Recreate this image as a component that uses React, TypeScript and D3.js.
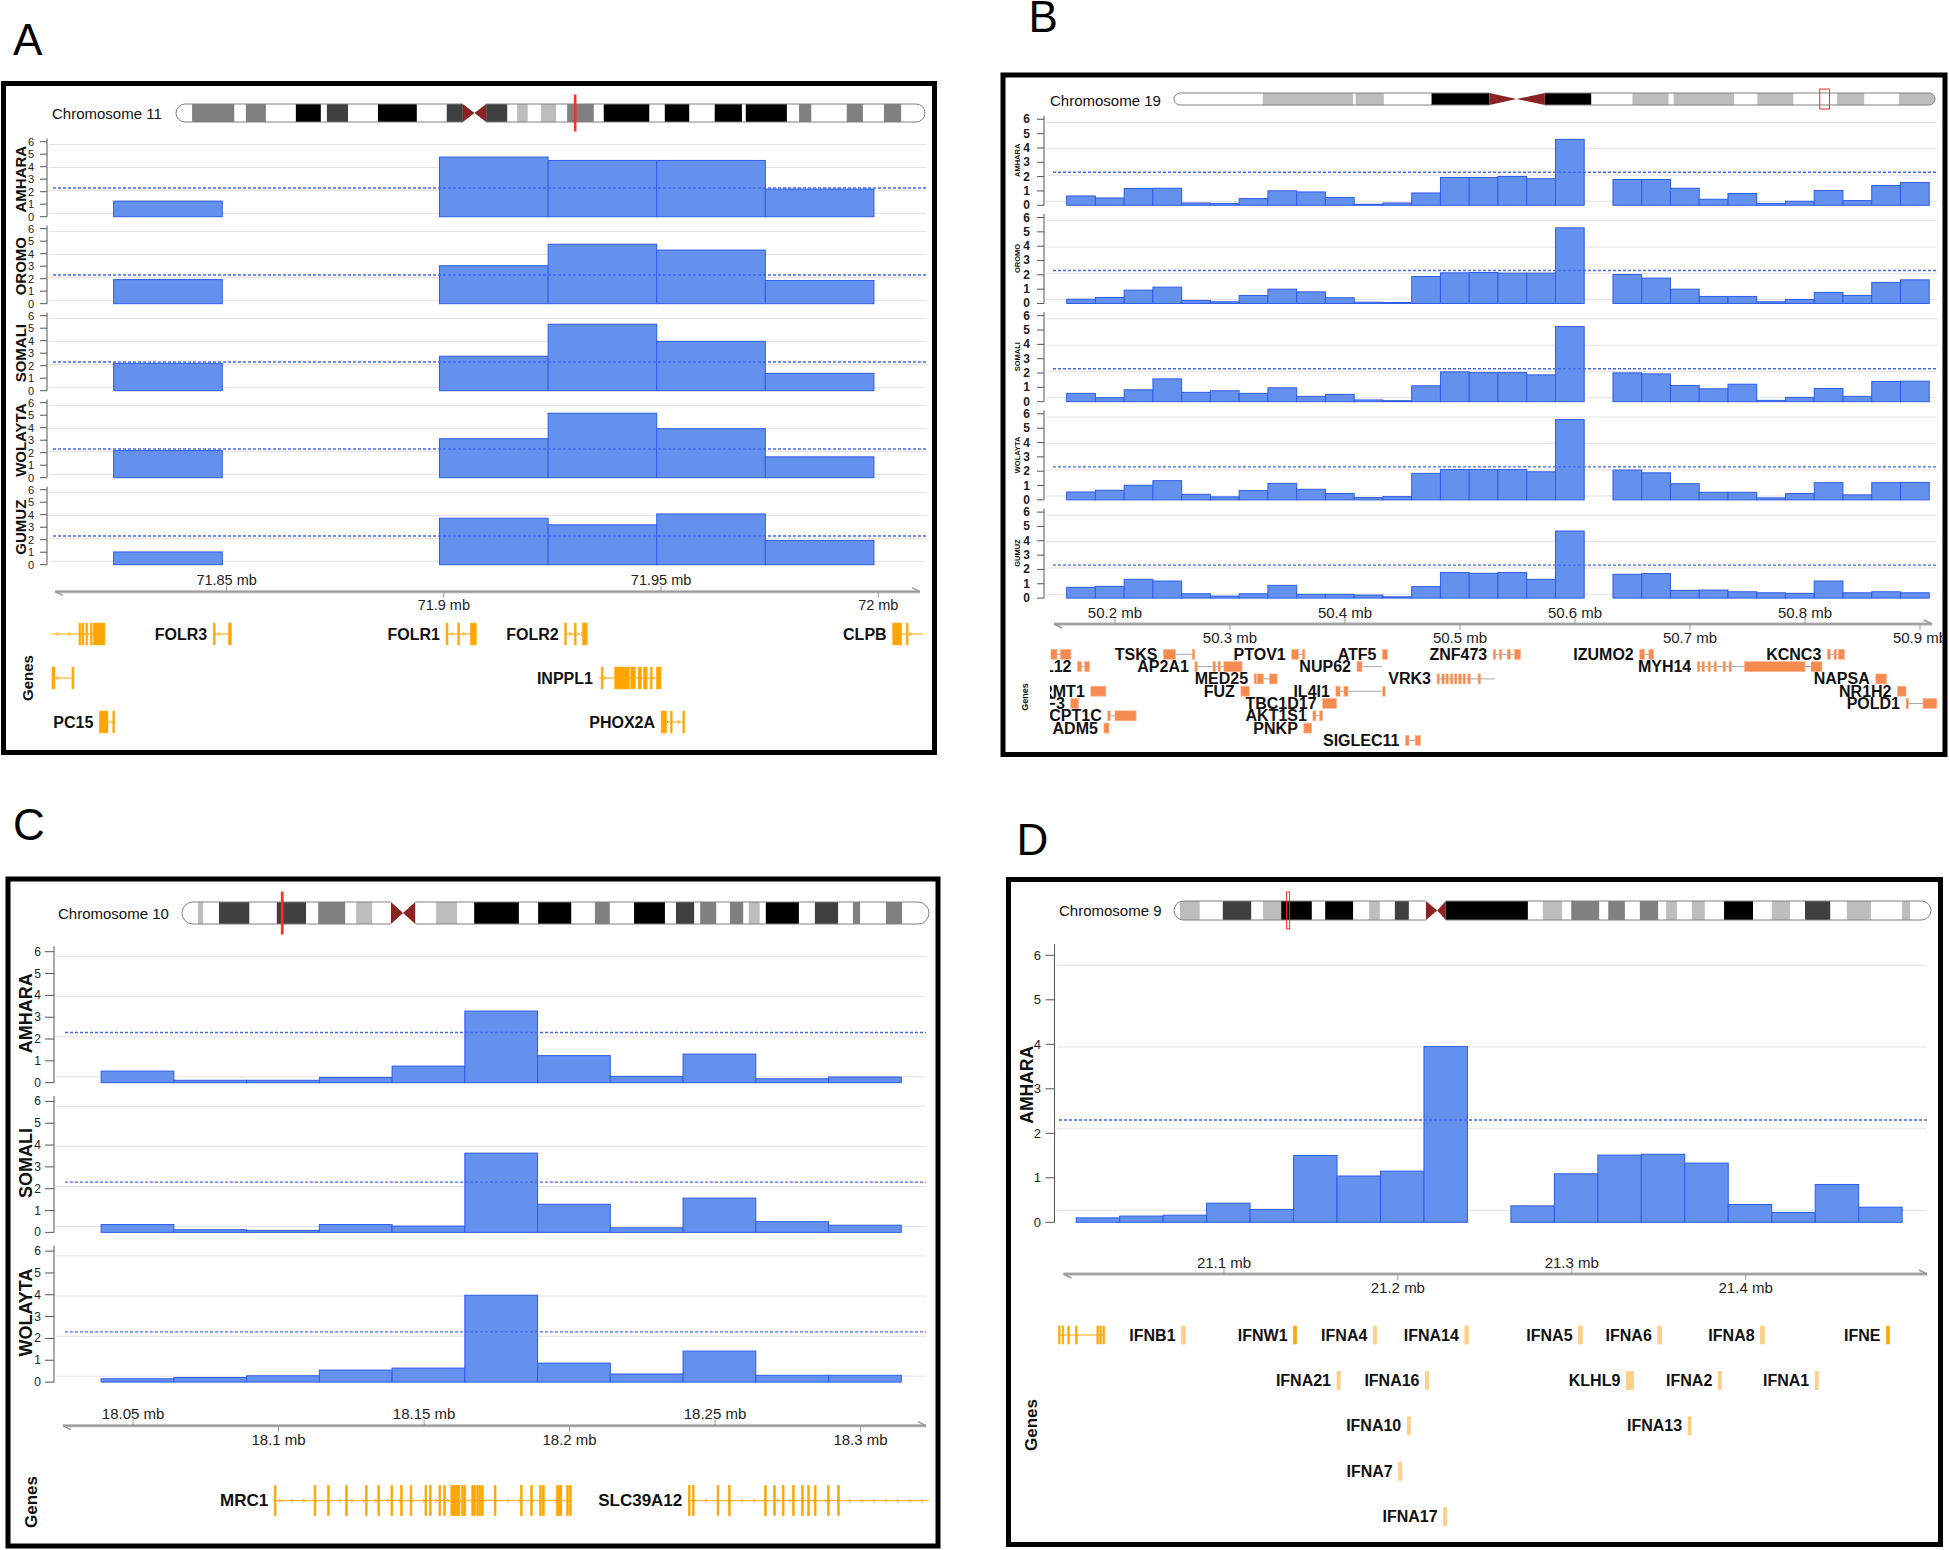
import React from "react";
import * as d3 from "d3";

const FONT = "'Liberation Sans', Arial, Helvetica, sans-serif";

// ---------------- shared data ----------------
const Y_TICKS = [0, 1, 2, 3, 4, 5, 6];
const GRID_VALUES = [0.27, 2.1, 3.94, 5.78];
const THRESHOLD = 2.3;
const BIN_SIZE = 0.025;

const STAIN: Record<string, string> = {
  gpos100: "#000000",
  gpos75: "#404040",
  gpos50: "#808080",
  gpos25: "#bdbdbd",
  acen: "#8b2323",
};

type Band = [number, number, string];
type Gene = { name: string; row: number; start: number; end: number; exons: [number, number][] };

// ---------------- panel A : chromosome 11 ----------------
const A_CHROM = "Chromosome 11";
const A_CHROM_LEN = 135.0;
const A_BANDS: Band[] = [
  [2.9, 10.5, "gpos50"], [12.6, 16.2, "gpos50"], [21.6, 26.1, "gpos100"], [27.2, 31.0, "gpos75"],
  [36.4, 43.4, "gpos100"], [48.8, 51.7, "gpos75"], [51.7, 53.8, "acen"], [53.8, 55.9, "acen"],
  [55.9, 59.7, "gpos75"], [61.5, 63.4, "gpos25"], [65.8, 68.5, "gpos25"], [70.5, 75.3, "gpos50"],
  [77.1, 85.3, "gpos100"], [88.1, 92.5, "gpos100"], [97.1, 102.0, "gpos100"], [102.7, 110.1, "gpos100"],
  [112.3, 114.5, "gpos50"], [120.9, 123.8, "gpos50"], [127.6, 130.7, "gpos50"],
];
const A_REGION: [number, number] = [71.8105, 72.0096];
const A_POPS = ["AMHARA", "OROMO", "SOMALI", "WOLAYTA", "GUMUZ"];
const A_BIN_STARTS = [71.824, 71.899, 71.924, 71.949, 71.974];
const A_AMHARA = [1.25, 4.77, 4.5, 4.5, 2.21];
const A_OROMO = [1.93, 3.04, 4.76, 4.29, 1.85];
const A_SOMALI = [2.18, 2.76, 5.32, 3.95, 1.39];
const A_WOLAYTA = [2.17, 3.12, 5.16, 3.92, 1.67];
const A_GUMUZ = [1.02, 3.72, 3.19, 4.06, 1.94];
const A_AXIS_TICKS = [71.85, 71.9, 71.95, 72.0];
const A_AXIS_LABELS = ["71.85 mb", "71.9 mb", "71.95 mb", "72 mb"];
const A_GENES: Gene[] = [
  { name: "", row: 0, start: 71.8098, end: 71.822, exons: [[71.816, 71.8162], [71.8167, 71.8169], [71.8176, 71.8178], [71.8186, 71.8188], [71.8193, 71.822]] },
  { name: "FOLR3", row: 0, start: 71.8469, end: 71.8511, exons: [[71.8469, 71.8471], [71.8504, 71.8511]] },
  { name: "FOLR1", row: 0, start: 71.9005, end: 71.9075, exons: [[71.9005, 71.9008], [71.9032, 71.9034], [71.9061, 71.9075]] },
  { name: "FOLR2", row: 0, start: 71.9278, end: 71.933, exons: [[71.9278, 71.928], [71.93, 71.9302], [71.9319, 71.933]] },
  { name: "CLPB", row: 0, start: 72.0033, end: 72.0103, exons: [[72.0033, 72.0054], [72.0064, 72.0066]] },
  { name: "", row: 1, start: 71.8098, end: 71.8146, exons: [[71.8098, 71.8105], [71.8144, 71.8146]] },
  { name: "INPPL1", row: 1, start: 71.9357, end: 71.9502, exons: [[71.9362, 71.9364], [71.9393, 71.9427], [71.943, 71.9441], [71.9447, 71.9455], [71.9459, 71.9468], [71.9475, 71.9477], [71.9489, 71.95]] },
  { name: "PC15", row: 2, start: 71.8207, end: 71.8241, exons: [[71.8207, 71.8227], [71.8238, 71.824]] },
  { name: "PHOX2A", row: 2, start: 71.95, end: 71.9552, exons: [[71.95, 71.9513], [71.9521, 71.9523], [71.955, 71.9552]] },
];

// ---------------- panel B : chromosome 19 ----------------
const B_CHROM = "Chromosome 19";
const B_CHROM_LEN = 59.1;
const B_BANDS: Band[] = [
  [6.9, 13.9, "gpos25"], [14.1, 16.3, "gpos25"], [20.0, 24.5, "gpos100"], [24.5, 26.6, "acen"],
  [26.6, 28.8, "acen"], [28.8, 32.4, "gpos100"], [35.6, 38.4, "gpos25"], [38.8, 43.5, "gpos25"],
  [45.3, 48.1, "gpos25"], [51.5, 53.6, "gpos25"], [56.3, 59.1, "gpos25"],
];
const B_REGION: [number, number] = [50.147, 50.9104];
const B_POPS = ["AMHARA", "OROMO", "SOMALI", "WOLAYTA", "GUMUZ"];
const B_BIN_STARTS = [
  50.158, 50.183, 50.208, 50.233, 50.258, 50.283, 50.308, 50.333, 50.358, 50.383, 50.408, 50.433,
  50.458, 50.483, 50.508, 50.533, 50.558, 50.583,
  50.633, 50.658, 50.683, 50.708, 50.733, 50.758, 50.783, 50.808, 50.833, 50.858, 50.883,
];
const B_AMHARA = [0.65, 0.51, 1.17, 1.19, 0.16, 0.12, 0.47, 1.01, 0.93, 0.54, 0.07, 0.16, 0.86, 1.94, 1.94, 2.01, 1.85, 4.6,
  1.8, 1.8, 1.19, 0.42, 0.82, 0.12, 0.28, 1.03, 0.33, 1.38, 1.59];
const B_OROMO = [0.3, 0.42, 0.93, 1.14, 0.21, 0.12, 0.56, 1.0, 0.81, 0.4, 0.09, 0.07, 1.88, 2.14, 2.16, 2.12, 2.12, 5.28,
  2.02, 1.77, 1.0, 0.49, 0.49, 0.12, 0.28, 0.77, 0.56, 1.47, 1.65];
const B_SOMALI = [0.58, 0.28, 0.83, 1.59, 0.65, 0.76, 0.58, 0.97, 0.37, 0.51, 0.12, 0.07, 1.11, 2.08, 2.03, 2.03, 1.87, 5.24,
  2.01, 1.94, 1.13, 0.9, 1.22, 0.09, 0.3, 0.92, 0.37, 1.41, 1.43];
const B_WOLAYTA = [0.55, 0.67, 1.02, 1.34, 0.39, 0.21, 0.65, 1.15, 0.74, 0.44, 0.16, 0.23, 1.85, 2.12, 2.12, 2.12, 1.96, 5.6,
  2.08, 1.89, 1.13, 0.53, 0.53, 0.14, 0.44, 1.2, 0.35, 1.2, 1.22];
const B_GUMUZ = [0.75, 0.82, 1.31, 1.19, 0.3, 0.14, 0.3, 0.89, 0.26, 0.26, 0.21, 0.09, 0.8, 1.78, 1.73, 1.78, 1.31, 4.68,
  1.66, 1.71, 0.54, 0.56, 0.44, 0.37, 0.33, 1.19, 0.37, 0.44, 0.37];
const B_AXIS_TICKS = [50.2, 50.3, 50.4, 50.5, 50.6, 50.7, 50.8, 50.9];
const B_AXIS_LABELS = ["50.2 mb", "50.3 mb", "50.4 mb", "50.5 mb", "50.6 mb", "50.7 mb", "50.8 mb", "50.9 mb"];
const B_GENES: Gene[] = [
  { name: "", row: 0, start: 50.1443, end: 50.1617, exons: [[50.1443, 50.1496], [50.1526, 50.1617]] },
  { name: "TSKS", row: 0, start: 50.2421, end: 50.2674, exons: [[50.2421, 50.2526], [50.2672, 50.2674]] },
  { name: "PTOV1", row: 0, start: 50.3537, end: 50.3642, exons: [[50.3537, 50.3595], [50.363, 50.3642]] },
  { name: "ATF5", row: 0, start: 50.4326, end: 50.4368, exons: [[50.4326, 50.4368]] },
  { name: "ZNF473", row: 0, start: 50.5289, end: 50.5526, exons: [[50.5289, 50.5291], [50.5342, 50.5344], [50.5411, 50.5437], [50.5473, 50.5526]] },
  { name: "IZUMO2", row: 0, start: 50.6563, end: 50.6683, exons: [[50.6563, 50.6604], [50.6642, 50.6683]] },
  { name: "KCNC3", row: 0, start: 50.8194, end: 50.8342, exons: [[50.8194, 50.822], [50.8252, 50.8254], [50.8289, 50.8342]] },
  { name: "BCL2L12", row: 1, start: 50.1674, end: 50.1779, exons: [[50.1674, 50.171], [50.1737, 50.1779]] },
  { name: "AP2A1", row: 1, start: 50.2695, end: 50.3105, exons: [[50.2695, 50.2697], [50.2852, 50.2854], [50.2895, 50.2897], [50.2947, 50.3105]] },
  { name: "NUP62", row: 1, start: 50.4104, end: 50.4326, exons: [[50.4104, 50.4148]] },
  { name: "MYH14", row: 1, start: 50.7063, end: 50.8147, exons: [[50.7063, 50.7065], [50.7104, 50.7106], [50.7157, 50.7159], [50.7209, 50.7211], [50.7287, 50.7289], [50.7339, 50.7341], [50.7473, 50.8], [50.8052, 50.8147]] },
  { name: "MED25", row: 2, start: 50.321, end: 50.341, exons: [[50.321, 50.3212], [50.3237, 50.329], [50.3342, 50.341]] },
  { name: "VRK3", row: 2, start: 50.48, end: 50.5304, exons: [[50.48, 50.4802], [50.4842, 50.4844], [50.4878, 50.488], [50.4916, 50.4918], [50.4952, 50.4954], [50.4989, 50.4991], [50.5026, 50.5028], [50.5068, 50.507], [50.5157, 50.5159]] },
  { name: "NAPSA", row: 2, start: 50.8615, end: 50.871, exons: [[50.8615, 50.871]] },
  { name: "PRMT1", row: 3, start: 50.179, end: 50.1921, exons: [[50.179, 50.1921]] },
  { name: "FUZ", row: 3, start: 50.3095, end: 50.3168, exons: [[50.3095, 50.3168]] },
  { name: "IL4I1", row: 3, start: 50.3921, end: 50.433, exons: [[50.3921, 50.3957], [50.399, 50.4026], [50.4328, 50.433]] },
  { name: "NR1H2", row: 3, start: 50.8804, end: 50.8878, exons: [[50.8804, 50.8878]] },
  { name: "IRF3", row: 4, start: 50.1616, end: 50.1684, exons: [[50.1616, 50.1684]] },
  { name: "TBC1D17", row: 4, start: 50.3805, end: 50.3926, exons: [[50.3805, 50.3926]] },
  { name: "POLD1", row: 4, start: 50.8878, end: 50.9146, exons: [[50.8878, 50.888], [50.9025, 50.9146]] },
  { name: "CPT1C", row: 5, start: 50.1937, end: 50.2184, exons: [[50.1937, 50.1939], [50.2, 50.2184]] },
  { name: "AKT1S1", row: 5, start: 50.3721, end: 50.3805, exons: [[50.3721, 50.3747], [50.3779, 50.3805]] },
  { name: "ADM5", row: 6, start: 50.1904, end: 50.1948, exons: [[50.1904, 50.1948]] },
  { name: "PNKP", row: 6, start: 50.3642, end: 50.371, exons: [[50.3642, 50.371]] },
  { name: "SIGLEC11", row: 7, start: 50.4526, end: 50.4657, exons: [[50.4526, 50.4557], [50.461, 50.4657]] },
];

// ---------------- panel C : chromosome 10 ----------------
const C_CHROM = "Chromosome 10";
const C_CHROM_LEN = 135.5;
const C_BANDS: Band[] = [
  [2.9, 3.8, "gpos25"], [6.7, 12.2, "gpos75"], [17.2, 22.5, "gpos75"], [24.7, 29.6, "gpos50"],
  [31.6, 34.5, "gpos25"], [37.9, 40.1, "acen"], [40.1, 42.3, "acen"], [46.1, 49.9, "gpos25"],
  [53.0, 61.1, "gpos100"], [64.6, 70.6, "gpos100"], [74.9, 77.6, "gpos50"], [82.0, 87.6, "gpos100"],
  [89.6, 92.9, "gpos75"], [94.0, 96.9, "gpos50"], [99.4, 101.8, "gpos50"], [102.8, 104.8, "gpos25"],
  [105.9, 111.9, "gpos100"], [114.8, 119.0, "gpos75"], [121.7, 123.0, "gpos50"], [127.7, 130.6, "gpos50"],
];
const C_REGION: [number, number] = [18.0259, 18.3225];
const C_POPS = ["AMHARA", "SOMALI", "WOLAYTA"];
const C_BIN_STARTS = [18.039, 18.064, 18.089, 18.114, 18.139, 18.164, 18.189, 18.214, 18.239, 18.264, 18.289];
const C_AMHARA = [0.53, 0.11, 0.11, 0.24, 0.76, 3.28, 1.24, 0.29, 1.31, 0.18, 0.26];
const C_SOMALI = [0.36, 0.12, 0.09, 0.36, 0.29, 3.63, 1.29, 0.21, 1.57, 0.49, 0.33];
const C_WOLAYTA = [0.15, 0.21, 0.29, 0.55, 0.64, 3.98, 0.87, 0.37, 1.42, 0.31, 0.31];
const C_AXIS_TICKS = [18.05, 18.1, 18.15, 18.2, 18.25, 18.3];
const C_AXIS_LABELS = ["18.05 mb", "18.1 mb", "18.15 mb", "18.2 mb", "18.25 mb", "18.3 mb"];
const C_MRC1_EXONS = [18.0985, 18.1122, 18.1168, 18.123, 18.1298, 18.1341, 18.1386, 18.1419, 18.1452, 18.1503, 18.1518,
  18.1551, 18.1567, 18.1592, 18.1598, 18.1604, 18.1611, 18.1617, 18.1629, 18.1637, 18.1664, 18.167, 18.1681, 18.1689,
  18.1697, 18.1741, 18.1831, 18.1866, 18.1897, 18.1907, 18.1955, 18.1961, 18.1967, 18.199, 18.2];
const C_SLC39A12_EXONS = [18.2408, 18.2422, 18.2507, 18.2546, 18.267, 18.2701, 18.2731, 18.2766, 18.2797, 18.2818,
  18.2841, 18.2886, 18.2921];
const C_GENES: Gene[] = [
  { name: "MRC1", row: 0, start: 18.0985, end: 18.2, exons: C_MRC1_EXONS.map((e) => [e, e] as [number, number]) },
  { name: "SLC39A12", row: 0, start: 18.2408, end: 18.3235, exons: C_SLC39A12_EXONS.map((e) => [e, e] as [number, number]) },
];

// ---------------- panel D : chromosome 9 ----------------
const D_CHROM = "Chromosome 9";
const D_CHROM_LEN = 141.2;
const D_BANDS: Band[] = [
  [1.1, 4.8, "gpos25"], [9.1, 14.4, "gpos75"], [16.6, 20.0, "gpos25"], [20.0, 25.7, "gpos100"],
  [28.2, 33.4, "gpos100"], [36.4, 38.4, "gpos25"], [41.2, 43.8, "gpos75"], [47.0, 49.1, "acen"],
  [49.1, 50.7, "acen"], [50.7, 66.0, "gpos100"], [68.8, 72.4, "gpos25"], [74.1, 79.3, "gpos50"],
  [81.0, 84.1, "gpos50"], [86.9, 90.3, "gpos50"], [91.8, 93.8, "gpos25"], [96.6, 99.0, "gpos25"],
  [102.6, 108.0, "gpos100"], [111.5, 114.9, "gpos25"], [117.7, 122.4, "gpos75"], [125.5, 130.0, "gpos25"],
  [135.8, 137.3, "gpos25"],
];
const D_REGION: [number, number] = [21.0077, 21.5043];
const D_POPS = ["AMHARA"];
const D_BIN_STARTS = [21.015, 21.04, 21.065, 21.09, 21.115, 21.14, 21.165, 21.19, 21.215,
  21.265, 21.29, 21.315, 21.34, 21.365, 21.39, 21.415, 21.44, 21.465];
const D_AMHARA = [0.1, 0.14, 0.16, 0.43, 0.29, 1.5, 1.04, 1.15, 3.95, 0.37, 1.09, 1.51, 1.53, 1.33, 0.4, 0.22, 0.85, 0.34];
const D_AXIS_TICKS = [21.1, 21.2, 21.3, 21.4];
const D_AXIS_LABELS = ["21.1 mb", "21.2 mb", "21.3 mb", "21.4 mb"];
const D_GENES: Gene[] = [
  { name: "", row: 0, start: 21.0049, end: 21.0311, exons: [[21.0049, 21.0052], [21.007, 21.0071], [21.0102, 21.0103], [21.0147, 21.0148], [21.0269, 21.027], [21.0286, 21.0287], [21.0304, 21.0305]] },
  { name: "IFNB1", row: 0, start: 21.0756, end: 21.0777, exons: [[21.0756, 21.0777]] },
  { name: "IFNW1", row: 0, start: 21.14, end: 21.1417, exons: [[21.14, 21.1417]] },
  { name: "IFNA4", row: 0, start: 21.1859, end: 21.1876, exons: [[21.1859, 21.1876]] },
  { name: "IFNA14", row: 0, start: 21.2385, end: 21.2405, exons: [[21.2385, 21.2405]] },
  { name: "IFNA5", row: 0, start: 21.3039, end: 21.306, exons: [[21.3039, 21.306]] },
  { name: "IFNA6", row: 0, start: 21.3495, end: 21.3516, exons: [[21.3495, 21.3516]] },
  { name: "IFNA8", row: 0, start: 21.4086, end: 21.4107, exons: [[21.4086, 21.4107]] },
  { name: "IFNE", row: 0, start: 21.481, end: 21.4827, exons: [[21.481, 21.4827]] },
  { name: "IFNA21", row: 1, start: 21.165, end: 21.1668, exons: [[21.165, 21.1668]] },
  { name: "IFNA16", row: 1, start: 21.2159, end: 21.2176, exons: [[21.2159, 21.2176]] },
  { name: "KLHL9", row: 1, start: 21.3314, end: 21.3356, exons: [[21.3314, 21.3356]] },
  { name: "IFNA2", row: 1, start: 21.3843, end: 21.386, exons: [[21.3843, 21.386]] },
  { name: "IFNA1", row: 1, start: 21.44, end: 21.4417, exons: [[21.44, 21.4417]] },
  { name: "IFNA10", row: 2, start: 21.2054, end: 21.2071, exons: [[21.2054, 21.2071]] },
  { name: "IFNA13", row: 2, start: 21.3669, end: 21.3686, exons: [[21.3669, 21.3686]] },
  { name: "IFNA7", row: 3, start: 21.2005, end: 21.2023, exons: [[21.2005, 21.2023]] },
  { name: "IFNA17", row: 4, start: 21.2263, end: 21.228, exons: [[21.2263, 21.228]] },
];
const D_STRONG = ["", "IFNW1", "IFNE"];

// ---------------- drawing helpers ----------------
function Ideogram(p: {
  id: string; x0: number; x1: number; y: number; h: number; len: number; bands: Band[];
  mark: [number, number]; ext: number; markFill: string; markMin: number;
}) {
  const s = d3.scaleLinear().domain([0, p.len]).range([p.x0, p.x1]);
  const { x0, x1, y, h } = p;
  const r = h / 2;
  const acen = p.bands.filter((b) => b[2] === "acen");
  const cs = s(acen[0][0]);
  const cm = s(acen[0][1]);
  const ce = s(acen[1][1]);
  const mx0 = s(p.mark[0]);
  const mw = Math.max(p.markMin, s(p.mark[1]) - mx0);
  return (
    <g>
      <clipPath id={p.id}>
        <rect x={x0} y={y} width={x1 - x0} height={h} rx={r} ry={r} />
      </clipPath>
      <g clipPath={`url(#${p.id})`}>
        <rect x={x0} y={y} width={cs - x0} height={h} fill="#fff" />
        <rect x={ce} y={y} width={x1 - ce} height={h} fill="#fff" />
        {p.bands.filter((b) => b[2] !== "acen").map((b, i) => (
          <rect key={i} x={s(b[0])} y={y} width={s(b[1]) - s(b[0])} height={h} fill={STAIN[b[2]]} />
        ))}
      </g>
      <path d={`M${cs},${y}L${cm},${y + h / 2}L${cs},${y + h}Z`} fill={STAIN.acen} />
      <path d={`M${ce},${y}L${cm},${y + h / 2}L${ce},${y + h}Z`} fill={STAIN.acen} />
      <path d={`M${cs},${y}H${x0 + r}A${r},${r} 0 0 0 ${x0 + r},${y + h}H${cs}`} fill="none" stroke="#808080" strokeWidth={1} />
      <path d={`M${ce},${y}H${x1 - r}A${r},${r} 0 0 1 ${x1 - r},${y + h}H${ce}`} fill="none" stroke="#808080" strokeWidth={1} />
      <rect x={mx0} y={y - p.ext} width={mw} height={h + 2 * p.ext} fill={p.markFill} stroke="#ff2a1a" strokeWidth={1} />
    </g>
  );
}

type TrackCfg = {
  top0: number; step: number; unit: number; axisX: number; x1: number; dashX0: number;
  labelX: number; labelSize: number; labelDy: number; tickSize: number; tickBold: boolean; tickLen: number; tickGap: number;
};

function DataTrack(p: { name: string; idx: number; values: number[]; starts: number[]; xs: d3.ScaleLinear<number, number>; cfg: TrackCfg }) {
  const c = p.cfg;
  const top = c.top0 + p.idx * c.step;
  const yv = d3.scaleLinear().domain([0, 6]).range([top + 6 * c.unit, top]);
  const mid = yv(3);
  return (
    <g>
      {GRID_VALUES.map((g, i) => (
        <line key={"g" + i} x1={c.axisX + 2} x2={c.x1} y1={yv(g)} y2={yv(g)} stroke="#e2e2e2" strokeWidth={1} />
      ))}
      {p.values.map((v, i) => {
        const xa = p.xs(p.starts[i]);
        const xb = p.xs(p.starts[i] + BIN_SIZE);
        return (
          <rect key={"b" + i} x={xa} y={yv(v)} width={xb - xa} height={yv(0) - yv(v)}
            fill="#6491ee" stroke="#2f5cec" strokeWidth={1} />
        );
      })}
      <line x1={c.dashX0} x2={c.x1} y1={yv(THRESHOLD)} y2={yv(THRESHOLD)} stroke="#4468f2" strokeWidth={1.4} strokeDasharray="3,2" />
      <line x1={c.axisX} x2={c.axisX} y1={yv(6.25)} y2={yv(0)} stroke="#555" strokeWidth={1} />
      {Y_TICKS.map((t) => (
        <g key={"t" + t}>
          <line x1={c.axisX - c.tickLen} x2={c.axisX} y1={yv(t)} y2={yv(t)} stroke="#555" strokeWidth={1} />
          <text x={c.axisX - c.tickLen - c.tickGap} y={yv(t)} textAnchor="end" dominantBaseline="central"
            fontSize={c.tickSize} fontWeight={c.tickBold ? "bold" : "normal"} fill="#222">{t}</text>
        </g>
      ))}
      <text transform={`translate(${c.labelX},${mid + c.labelDy}) rotate(-90)`} textAnchor="middle" dominantBaseline="central"
        fontSize={c.labelSize} fontWeight="bold" fill="#111">{p.name}</text>
    </g>
  );
}

function GenomeAxis(p: { xs: d3.ScaleLinear<number, number>; y: number; ticks: number[]; labels: string[]; fontSize: number }) {
  const [d0, d1] = p.xs.domain();
  const X0 = p.xs(d0);
  const X1 = p.xs(d1);
  const y = p.y;
  return (
    <g>
      <line x1={X0} x2={X1} y1={y} y2={y} stroke="#b3b3b3" strokeWidth={3} />
      <line x1={X0} x2={X1} y1={y} y2={y} stroke="#8c8c8c" strokeWidth={0.8} />
      <path d={`M${X0 + 8},${y + 4}L${X0},${y}`} stroke="#999" strokeWidth={1.5} fill="none" />
      <path d={`M${X1 - 8},${y - 4}L${X1},${y}`} stroke="#999" strokeWidth={1.5} fill="none" />
      {p.ticks.map((t, i) => {
        const above = i % 2 === 0;
        const x = p.xs(t);
        return (
          <g key={i}>
            <line x1={x} x2={x} y1={y} y2={above ? y - 6 : y + 6} stroke="#9a9a9a" strokeWidth={1} />
            <text x={x} y={above ? y - 12 : y + 13.5} textAnchor="middle" dominantBaseline="central" fontSize={p.fontSize} fill="#222">
              {p.labels[i]}
            </text>
          </g>
        );
      })}
    </g>
  );
}

type GeneStyle = {
  rows: (r: number) => number; exonH: number; fontSize: number; minW: number; gap: number;
  fill: (g: Gene) => string; stroke: (g: Gene) => string; line: string; chevrons: boolean;
};

function GeneTrack(p: { genes: Gene[]; xs: d3.ScaleLinear<number, number>; st: GeneStyle }) {
  const st = p.st;
  return (
    <g>
      {p.genes.map((g, gi) => {
        const y = st.rows(g.row);
        const xa = p.xs(g.start);
        const xb = p.xs(g.end);
        const chev: number[] = [];
        if (st.chevrons) for (let x = xa + 6; x < xb - 3; x += 12) chev.push(x);
        return (
          <g key={gi}>
            <line x1={xa} x2={xb} y1={y} y2={y} stroke={st.line} strokeWidth={1} />
            {chev.map((x, k) => (
              <path key={k} d={`M${x - 1.5},${y - 1.8}L${x + 1},${y}L${x - 1.5},${y + 1.8}`} fill="none" stroke={st.line} strokeWidth={0.9} />
            ))}
            {g.exons.map(([s, e], k) => {
              const a = p.xs(s);
              const w = Math.max(st.minW, p.xs(e) - a);
              return <rect key={"e" + k} x={a} y={y - st.exonH / 2} width={w} height={st.exonH} fill={st.fill(g)} stroke={st.stroke(g)} strokeWidth={0.6} />;
            })}
            {g.name && (
              <text x={xa - st.gap} y={y} textAnchor="end" dominantBaseline="central" fontSize={st.fontSize} fontWeight="bold" fill="#111">
                {g.name}
              </text>
            )}
          </g>
        );
      })}
    </g>
  );
}

function Frame(p: { x: number; y: number; w: number; h: number }) {
  return <rect x={p.x} y={p.y} width={p.w} height={p.h} fill="none" stroke="#000" strokeWidth={5} />;
}

function RotLabel(p: { x: number; y: number; size: number; text: string }) {
  return (
    <text transform={`translate(${p.x},${p.y}) rotate(-90)`} textAnchor="middle" dominantBaseline="central"
      fontSize={p.size} fontWeight="bold" fill="#111">{p.text}</text>
  );
}

// ---------------- App ----------------
export default function App() {
  const xsA = d3.scaleLinear().domain(A_REGION).range([55, 920]);
  const xsB = d3.scaleLinear().domain(B_REGION).range([1054, 1932]);
  const xsC = d3.scaleLinear().domain(C_REGION).range([63, 926]);
  const xsD = d3.scaleLinear().domain(D_REGION).range([1063.5, 1927]);

  const aVals = [A_AMHARA, A_OROMO, A_SOMALI, A_WOLAYTA, A_GUMUZ];
  const bVals = [B_AMHARA, B_OROMO, B_SOMALI, B_WOLAYTA, B_GUMUZ];
  const cVals = [C_AMHARA, C_SOMALI, C_WOLAYTA];
  const dVals = [D_AMHARA];

  const cfgA: TrackCfg = { top0: 141.7, step: 87, unit: 12.5, axisX: 47, x1: 926, dashX0: 53, labelX: 20, labelSize: 15, labelDy: 0, tickSize: 11, tickBold: false, tickLen: 7, tickGap: 6 };
  const cfgB: TrackCfg = { top0: 119.3, step: 98.2, unit: 14.33, axisX: 1044, x1: 1937, dashX0: 1053, labelX: 1017, labelSize: 7.5, labelDy: -2, tickSize: 12, tickBold: true, tickLen: 7, tickGap: 7 };
  const cfgC: TrackCfg = { top0: 951.7, step: 149.7, unit: 21.83, axisX: 54, x1: 926, dashX0: 65, labelX: 25.5, labelSize: 18, labelDy: -4, tickSize: 12, tickBold: false, tickLen: 9, tickGap: 4 };
  const cfgD: TrackCfg = { top0: 955.3, step: 0, unit: 44.5, axisX: 1054.5, x1: 1927, dashX0: 1059, labelX: 1027, labelSize: 17.5, labelDy: -4, tickSize: 13, tickBold: false, tickLen: 9, tickGap: 4.5 };

  const stA: GeneStyle = { rows: (r) => 634 + r * 44, exonH: 22, fontSize: 16, minW: 2, gap: 6, fill: () => "#ffa500", stroke: () => "#ffb733", line: "#ffa500", chevrons: true };
  const stB: GeneStyle = { rows: (r) => 654.3 + r * 12.3, exonH: 10, fontSize: 16, minW: 2.5, gap: 6, fill: () => "#f68a4f", stroke: () => "#fdb894", line: "#a8a8a8", chevrons: false };
  const stC: GeneStyle = { rows: () => 1500.7, exonH: 30, fontSize: 17, minW: 1.8, gap: 6, fill: () => "#ffa500", stroke: () => "#ffa500", line: "#ffa500", chevrons: true };
  const stD: GeneStyle = {
    rows: (r) => 1335 + r * 45.4, exonH: 18, fontSize: 16, minW: 1.5, gap: 6,
    fill: (g) => (D_STRONG.includes(g.name) ? "#ffa500" : "#ffd08a"),
    stroke: (g) => (D_STRONG.includes(g.name) ? "#ffa500" : "#ffc56a"), line: "#ffa500", chevrons: false,
  };

  return (
    <svg width={1949} height={1550} style={{ position: "absolute", left: 0, top: 0, background: "#fff" }} fontFamily={FONT}>
      <rect x={0} y={0} width={1949} height={1550} fill="#fff" />
      <defs>
        <clipPath id="clipA"><rect x={6} y={86} width={926} height={664} /></clipPath>
        <clipPath id="clipB"><rect x={1005.5} y={77.5} width={937} height={674.5} /></clipPath>
        <clipPath id="clipC"><rect x={10.5} y={881.5} width={925} height={662} /></clipPath>
        <clipPath id="clipD"><rect x={1011} y={882} width={927} height={660} /></clipPath>
        <clipPath id="genesA"><rect x={50} y={600} width={882} height={150} /></clipPath>
        <clipPath id="genesB"><rect x={1050} y={640} width={892} height={112} /></clipPath>
        <clipPath id="genesC"><rect x={60} y={1460} width={873} height={84} /></clipPath>
        <clipPath id="genesD"><rect x={1056} y={1300} width={882} height={242} /></clipPath>
      </defs>

      {/* panel letters */}
      <text x={13} y={55} fontSize={44} fill="#000">A</text>
      <text x={1028.5} y={32} fontSize={44} fill="#000">B</text>
      <text x={13} y={840} fontSize={44} fill="#000">C</text>
      <text x={1016.5} y={855} fontSize={44} fill="#000">D</text>

      {/* ---------- Panel A ---------- */}
      <g clipPath="url(#clipA)">
        <text x={52} y={113} dominantBaseline="central" fontSize={15} fill="#111">{A_CHROM}</text>
        <Ideogram id="ideoA" x0={176} x1={925} y={104} h={18} len={A_CHROM_LEN} bands={A_BANDS} mark={A_REGION} ext={9} markFill="#ff2a1a" markMin={1.5} />
        {A_POPS.map((n, i) => (
          <DataTrack key={n} name={n} idx={i} values={aVals[i]} starts={A_BIN_STARTS} xs={xsA} cfg={cfgA} />
        ))}
        <GenomeAxis xs={xsA} y={591.7} ticks={A_AXIS_TICKS} labels={A_AXIS_LABELS} fontSize={14.5} />
        <RotLabel x={27} y={678} size={15} text="Genes" />
        <g clipPath="url(#genesA)"><GeneTrack genes={A_GENES} xs={xsA} st={stA} /></g>
      </g>
      <Frame x={3.5} y={83.5} w={931} h={669} />

      {/* ---------- Panel B ---------- */}
      <g clipPath="url(#clipB)">
        <text x={1050} y={100} dominantBaseline="central" fontSize={15} fill="#111">{B_CHROM}</text>
        <Ideogram id="ideoB" x0={1174} x1={1935} y={93} h={12} len={B_CHROM_LEN} bands={B_BANDS} mark={B_REGION} ext={4} markFill="none" markMin={2} />
        {B_POPS.map((n, i) => (
          <DataTrack key={n} name={n} idx={i} values={bVals[i]} starts={B_BIN_STARTS} xs={xsB} cfg={cfgB} />
        ))}
        <GenomeAxis xs={xsB} y={624} ticks={B_AXIS_TICKS} labels={B_AXIS_LABELS} fontSize={15} />
        <RotLabel x={1024.5} y={697} size={9} text="Genes" />
        <g clipPath="url(#genesB)"><GeneTrack genes={B_GENES} xs={xsB} st={stB} /></g>
      </g>
      <Frame x={1003} y={75} w={942} h={679.5} />

      {/* ---------- Panel C ---------- */}
      <g clipPath="url(#clipC)">
        <text x={58} y={913} dominantBaseline="central" fontSize={15} fill="#111">{C_CHROM}</text>
        <Ideogram id="ideoC" x0={182} x1={929} y={902} h={22} len={C_CHROM_LEN} bands={C_BANDS} mark={C_REGION} ext={10} markFill="#ff2a1a" markMin={1.5} />
        {C_POPS.map((n, i) => (
          <DataTrack key={n} name={n} idx={i} values={cVals[i]} starts={C_BIN_STARTS} xs={xsC} cfg={cfgC} />
        ))}
        <GenomeAxis xs={xsC} y={1425.7} ticks={C_AXIS_TICKS} labels={C_AXIS_LABELS} fontSize={15} />
        <RotLabel x={31} y={1502} size={17} text="Genes" />
        <g clipPath="url(#genesC)"><GeneTrack genes={C_GENES} xs={xsC} st={stC} /></g>
      </g>
      <Frame x={8} y={879} w={930} h={667} />

      {/* ---------- Panel D ---------- */}
      <g clipPath="url(#clipD)">
        <text x={1059} y={910.7} dominantBaseline="central" fontSize={15} fill="#111">{D_CHROM}</text>
        <Ideogram id="ideoD" x0={1174} x1={1931} y={901} h={19} len={D_CHROM_LEN} bands={D_BANDS} mark={D_REGION} ext={9} markFill="none" markMin={3} />
        {D_POPS.map((n, i) => (
          <DataTrack key={n} name={n} idx={i} values={dVals[i]} starts={D_BIN_STARTS} xs={xsD} cfg={cfgD} />
        ))}
        <GenomeAxis xs={xsD} y={1274} ticks={D_AXIS_TICKS} labels={D_AXIS_LABELS} fontSize={15} />
        <RotLabel x={1031} y={1425} size={17} text="Genes" />
        <g clipPath="url(#genesD)"><GeneTrack genes={D_GENES} xs={xsD} st={stD} /></g>
      </g>
      <Frame x={1008.5} y={879.5} w={932} h={665} />
    </svg>
  );
}
